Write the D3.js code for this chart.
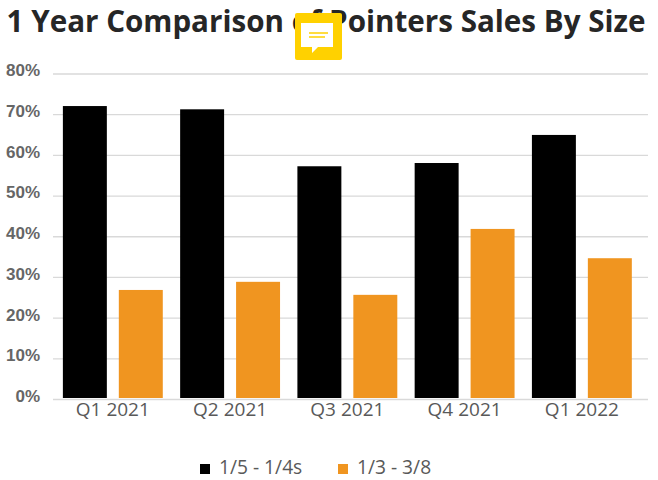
<!DOCTYPE html>
<html>
<head>
<meta charset="utf-8">
<script src="https://cdn.jsdelivr.net/npm/d3@7"></script>
<style>
	html, body { margin: 0; padding: 0; background: #fff; }
	svg { display: block; }
	.y-axis text { font-family: "Liberation Sans", sans-serif; font-size: 17px; font-weight: bold; fill: #666; }
	.x-axis text { font-family: "Open Sans", sans-serif; font-size: 19px; fill: #595959; }
	.legend text { font-family: "Open Sans", sans-serif; font-size: 19.2px; fill: #595959; }
</style>
</head>
<body>
<div id="chart"></div>
<script>
var quarters = ["Q1 2021", "Q2 2021", "Q3 2021", "Q4 2021", "Q1 2022"];
var seriesNames = ["1/5 - 1/4s", "1/3 - 3/8"];
var smallSizes = [72, 71.2, 57.2, 58, 64.9];
var largeSizes = [26.8, 28.8, 25.6, 41.8, 34.6];
var yTicks = [0, 10, 20, 30, 40, 50, 60, 70, 80];
var colors = ["#000000", "#F09520"];

(function() {
	var width = 658,
		height = 480;

	var svg = d3.select("#chart")
		.append("svg")
		.attr("width", width)
		.attr("height", height);

	var x0 = d3.scaleBand().domain(quarters).range([53.5, 641.2]).paddingInner(0.148).paddingOuter(0.08);
	var x1 = d3.scaleBand().domain(seriesNames).range([0, x0.bandwidth()]).paddingInner(0.214);
	var y = d3.scaleLinear().domain([0, 80]).range([399, 73.5]);

	var yAxis = d3.axisLeft(y)
		.tickValues(yTicks)
		.tickFormat(function(d) { return d + "%"; })
		.tickSize(-595)
		.tickPadding(13);

	var gy = svg.append("g")
		.attr("class", "y-axis")
		.attr("transform", "translate(53,0)")
		.call(yAxis);
	gy.select(".domain").remove();
	gy.selectAll("line").attr("stroke", "#D9D9D9").attr("stroke-width", 1.3);
	gy.selectAll("text").attr("dy", "0.14em");

	var rows = [smallSizes, largeSizes];
	rows.forEach(function(values, i) {
		svg.append("g").selectAll("rect")
			.data(values)
			.enter().append("rect")
			.attr("x", function(d, j) { return x0(quarters[j]) + x1(seriesNames[i]); })
			.attr("y", function(d) { return y(d); })
			.attr("width", x1.bandwidth())
			.attr("height", function(d) { return y(0) - y(d) - 1; })
			.attr("fill", colors[i]);
	});

	var gx = svg.append("g")
		.attr("class", "x-axis")
		.attr("transform", "translate(0,399)")
		.call(d3.axisBottom(x0).tickSize(0).tickPadding(3));
	gx.select(".domain").remove();

	svg.append("text")
		.attr("x", 326)
		.attr("y", 32)
		.attr("text-anchor", "middle")
		.attr("font-family", "'Open Sans', sans-serif")
		.attr("font-weight", "bold")
		.attr("font-size", 29.6)
		.attr("fill", "#262626")
		.text("1 Year Comparison of Pointers Sales By Size");

	// yellow comment badge that sits over the title
	var badge = svg.append("g").attr("transform", "translate(295,13)");
	badge.append("rect").attr("width", 47).attr("height", 47).attr("rx", 2).attr("fill", "#FFD100");
	badge.append("path").attr("d", "M6 10H38V34H23L17 40V34H6Z").attr("fill", "#fff");
	badge.append("path").attr("d", "M14 20H33M14 24H30").attr("stroke", "#FFD100").attr("stroke-width", 1.3);

	var legend = svg.append("g").attr("class", "legend");
	var legendX = [200, 338];
	seriesNames.forEach(function(name, i) {
		legend.append("rect")
			.attr("x", legendX[i])
			.attr("y", 464)
			.attr("width", 10)
			.attr("height", 10)
			.attr("fill", colors[i]);
		legend.append("text")
			.attr("x", legendX[i] + 19)
			.attr("y", 474.3)
			.text(name);
	});
})();
</script>
</body>
</html>
